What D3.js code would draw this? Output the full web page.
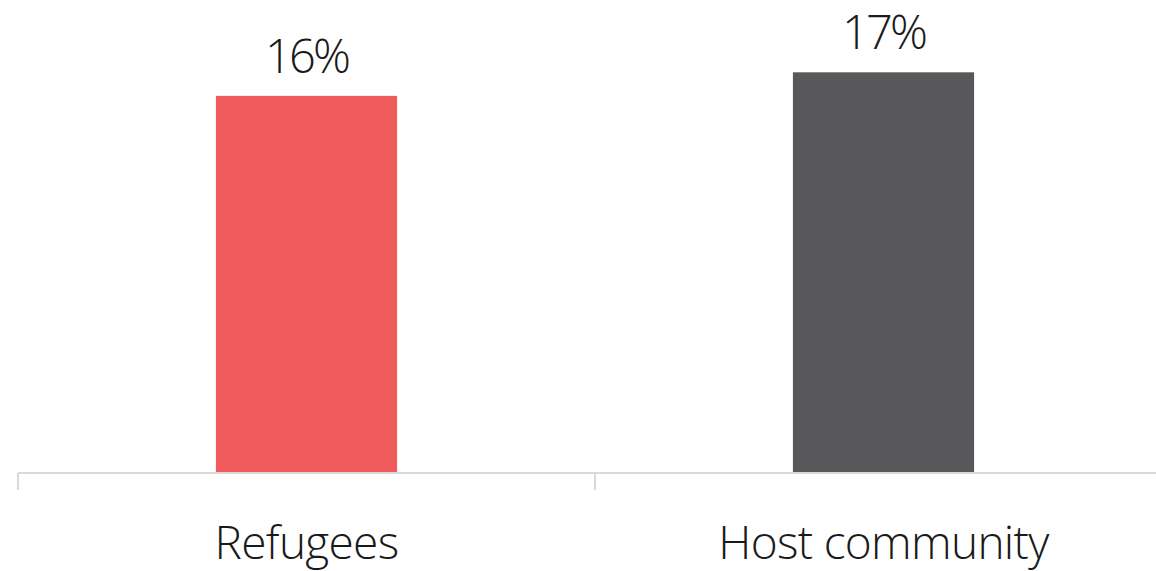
<!DOCTYPE html>
<html>
<head>
<meta charset="utf-8">
<script src="https://cdn.jsdelivr.net/npm/d3@7"></script>
<style>
  body { margin: 0; background: #fff; }
  text { font-family: "Open Sans", "Noto Sans", sans-serif; font-weight: 300; fill: #1a1a1a; }
</style>
</head>
<body>
<div id="chart"></div>
<script>
var categories = ["Refugees", "Host community"];
var values = [16, 17];
var colors = ["#ef5a5a", "#58585a"];

var width = 1156, height = 571;
var baseY = 473;

var svg = d3.select("#chart")
  .append("svg")
  .attr("width", width)
  .attr("height", height);

var x = d3.scaleBand()
  .domain(categories)
  .range([18, 1172])
  .paddingInner(0.686)
  .paddingOuter(0.343);

var y = d3.scaleLinear()
  .domain([0, 20])
  .range([baseY, baseY - 20 * 23.57]);

// bars
svg.selectAll("rect.bar")
  .data(values)
  .enter()
  .append("rect")
  .attr("class", "bar")
  .attr("x", function(d, i){ return x(categories[i]); })
  .attr("y", function(d){ return y(d); })
  .attr("width", x.bandwidth())
  .attr("height", function(d){ return baseY - y(d); })
  .style("fill", function(d, i){ return colors[i]; });

// axis line + tick marks between categories
svg.append("line")
  .attr("x1", 18).attr("x2", width)
  .attr("y1", baseY).attr("y2", baseY)
  .style("stroke", "#d9d9d9")
  .style("stroke-width", 2);

var step = x.step();
svg.selectAll("line.tick")
  .data(categories)
  .enter()
  .append("line")
  .attr("class", "tick")
  .attr("x1", function(d){ return x(d) - step * 0.343; })
  .attr("x2", function(d){ return x(d) - step * 0.343; })
  .attr("y1", baseY)
  .attr("y2", 490)
  .style("stroke", "#d9d9d9")
  .style("stroke-width", 2);

// value labels
svg.selectAll("text.val")
  .data(values)
  .enter()
  .append("text")
  .attr("class", "val")
  .attr("x", function(d, i){ return x(categories[i]) + x.bandwidth() / 2; })
  .attr("y", function(d){ return y(d) - 23; })
  .attr("text-anchor", "middle")
  .attr("font-size", 47)
  .attr("letter-spacing", -2.8)
  .text(function(d){ return d + "%"; });

// category labels
svg.selectAll("text.cat")
  .data(categories)
  .enter()
  .append("text")
  .attr("class", "cat")
  .attr("x", function(d){ return x(d) + x.bandwidth() / 2; })
  .attr("y", 559)
  .attr("text-anchor", "middle")
  .attr("font-size", 46)
  .attr("letter-spacing", -0.7)
  .text(function(d){ return d; });
</script>
</body>
</html>
